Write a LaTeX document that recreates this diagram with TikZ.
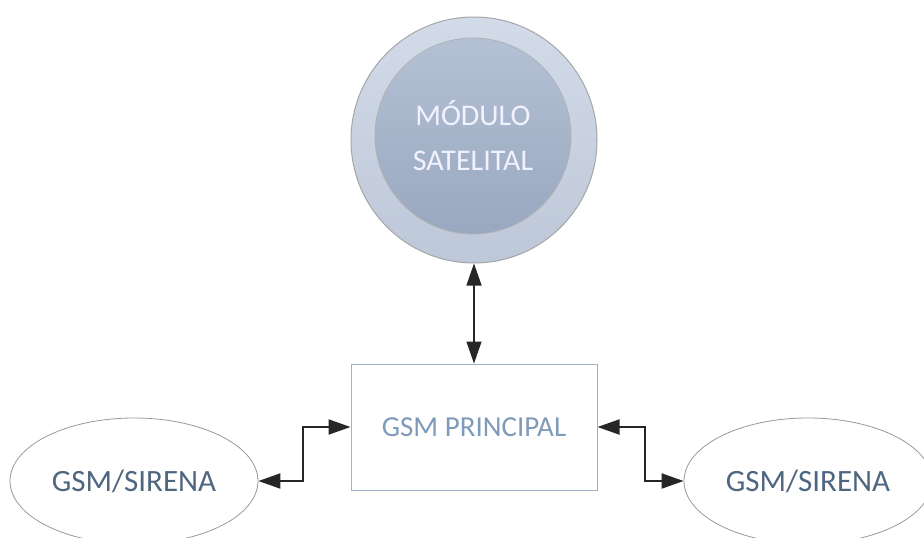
\documentclass[tikz,border=0pt]{standalone}
\usepackage{fontspec}
\setmainfont{Carlito}
\usetikzlibrary{shapes.geometric,arrows.meta}

\definecolor{ringfill}{HTML}{C7D2E3}
\definecolor{corefill}{HTML}{A1B1CA}
\definecolor{boxline}{HTML}{9CB2CB}
\definecolor{boxtext}{HTML}{7E9BBB}
\definecolor{ovaltext}{HTML}{4F6680}

\begin{document}
\begin{tikzpicture}[x=1pt, y=-1pt,
    ring/.style={circle, draw=gray!70, line width=1pt, minimum size=246pt,
      top color=ringfill!80!white, bottom color=ringfill!95!black},
    core/.style={circle, draw=gray!60, line width=0.8pt, minimum size=196pt,
      top color=corefill!80!white, bottom color=corefill!95!black,
      text=white!95!blue, align=center, font=\fontsize{30}{45}\selectfont},
    unit/.style={rectangle, draw=boxline, line width=1pt, minimum width=246pt,
      minimum height=126pt, text=boxtext, font=\fontsize{29}{32}\selectfont},
    oval/.style={ellipse, draw=gray!80, line width=0.8pt, minimum width=248pt,
      minimum height=126pt, text=ovaltext, font=\fontsize{31}{34}\selectfont},
    link/.style={{Triangle[length=22pt,width=15pt]}-{Triangle[length=22pt,width=15pt]},
      line width=2pt, black!85}]

  % page frame
  \useasboundingbox (0,0) rectangle (924,538);

  % --- satellite module ---
  \node[ring] (sat) at (474,140) {};
  \node[core] (core) at (473,136) {MÓDULO\\SATELITAL};

  % --- main GSM unit ---
  \node[unit] (gsm) at (474,427) {GSM PRINCIPAL};

  % --- sirens ---
  \node[oval] (sirL) at (134,481) {GSM/SIRENA};
  \node[oval] (sirR) at (808,481) {GSM/SIRENA};

  % connectors
  \draw[link, line width=1.4pt] (sat.south) -- (gsm.north);
  \draw[link] (sirL.east) -- ++(45,0) |- (gsm.west);
  \draw[link] (gsm.east) -- ++(47,0) |- (sirR.west);
\end{tikzpicture}
\end{document}
